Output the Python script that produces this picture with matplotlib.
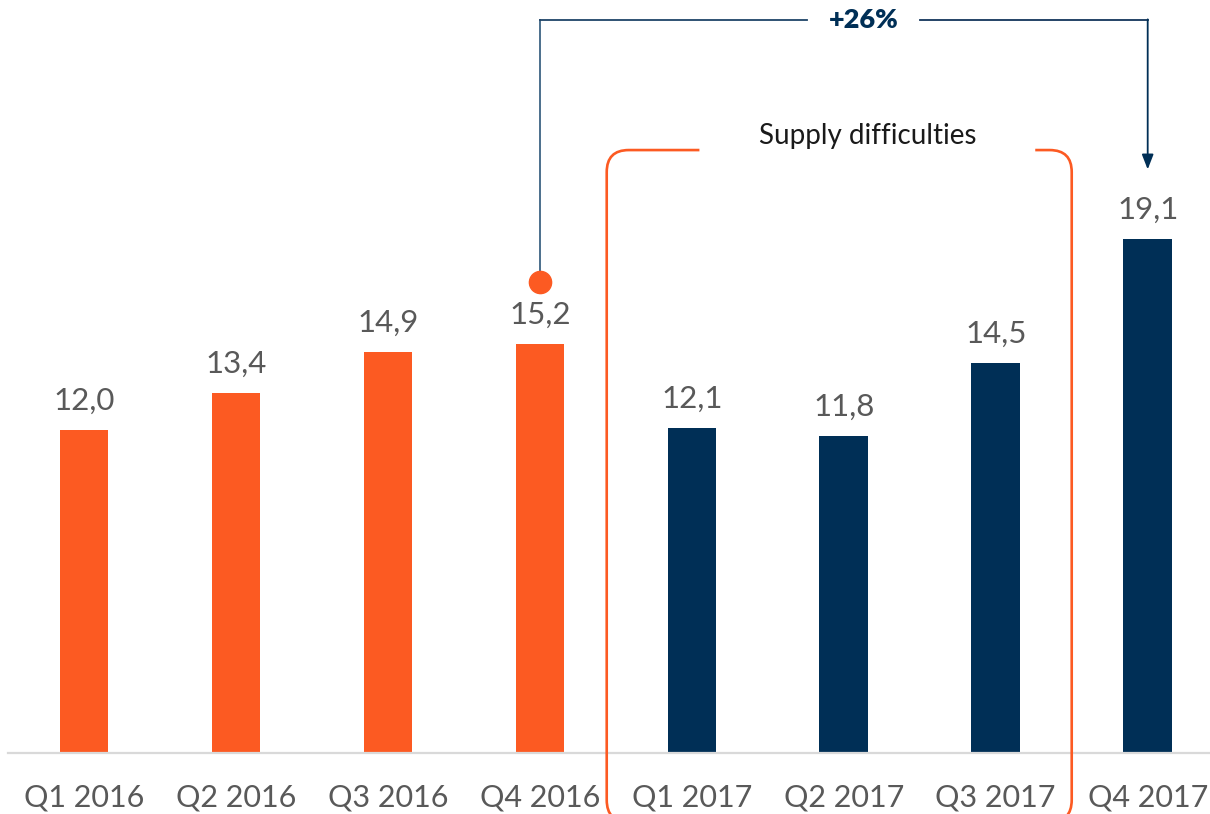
import matplotlib.pyplot as plt
from matplotlib.path import Path
from matplotlib.patches import PathPatch

plt.rcParams["font.family"] = ["Lato", "DejaVu Sans"]

quarters = ["Q1 2016", "Q2 2016", "Q3 2016", "Q4 2016",
            "Q1 2017", "Q2 2017", "Q3 2017", "Q4 2017"]
values = [12.0, 13.4, 14.9, 15.2, 12.1, 11.8, 14.5, 19.1]
growth_label = "+26%"
bracket_label = "Supply difficulties"

orange = "#fc5a22"
navy = "#002f56"
grey_txt = "#595959"

colors = [orange] * 4 + [navy] * 4

fig = plt.figure(figsize=(12.1, 8.14), dpi=100)
ax = fig.add_axes([8 / 1210, 61 / 814, 1 - 8 / 1210, 753 / 814])
ax.set_xlim(-0.5, 7.41)
ax.set_ylim(0, 28)

x = range(len(values))
ax.bar(x, values, width=0.32, color=colors, zorder=2)

for xi, v in zip(x, values):
    ax.annotate(f"{v:.1f}".replace(".", ","), (xi, v), xytext=(0, 11),
                textcoords="offset points", ha="center", va="bottom",
                fontsize=22.5, color=grey_txt)

for s in ["top", "right", "left"]:
    ax.spines[s].set_visible(False)
ax.spines["bottom"].set_color("#d9d9d9")
ax.spines["bottom"].set_linewidth(1.6)
ax.set_yticks([])
ax.set_xticks(list(x))
ax.set_xticklabels(quarters, fontsize=22, color=grey_txt)
ax.tick_params(axis="x", length=0, pad=22)

# growth annotation: Q4 2016 -> Q4 2017
y_top = 27.25
i0, i1 = 3, 7
x_txt = 5.13
ax.plot(i0, values[i0] + 2.3, "o", ms=16, color=orange, zorder=3, clip_on=False)
ax.plot([i0, i0], [values[i0] + 2.3, y_top], color="#3d6384", lw=1.3)
ax.plot([i0, x_txt - 0.37], [y_top, y_top], color="#1f4468", lw=1.3)
ax.plot([x_txt + 0.37, i1], [y_top, y_top], color="#12355b", lw=1.3)
ax.annotate("", xy=(i1, values[i1] + 2.6), xytext=(i1, y_top + 0.03),
            arrowprops=dict(arrowstyle="-|>,head_length=0.9,head_width=0.35",
                            color=navy, lw=1.3, shrinkA=0, shrinkB=0))
ax.text(x_txt, y_top, growth_label, ha="center", va="center", fontsize=19.5,
        fontweight="heavy", color=navy)

# rounded bracket around the 2017 dip
fig.canvas.draw()
to_px = ax.transData.transform
(xl, yt), = to_px([(3.44, 22.42)])
(xr, _), = to_px([(6.5, 22.42)])
(gl, _), = to_px([(4.05, 0)])
(gr, _), = to_px([(6.26, 0)])
yb = -8
r = 22
left = Path([(gl, yt), (xl + r, yt), (xl, yt), (xl, yt - r), (xl, yb + r),
             (xl, yb), (xl + r, yb)],
            [Path.MOVETO, Path.LINETO, Path.CURVE3, Path.CURVE3, Path.LINETO,
             Path.CURVE3, Path.CURVE3])
right = Path([(gr, yt), (xr - r, yt), (xr, yt), (xr, yt - r), (xr, yb + r),
              (xr, yb), (xr - r, yb)],
             [Path.MOVETO, Path.LINETO, Path.CURVE3, Path.CURVE3, Path.LINETO,
              Path.CURVE3, Path.CURVE3])
for p in (left, right):
    fig.add_artist(PathPatch(p, transform=None, fill=False, edgecolor=orange,
                             lw=1.9, zorder=4))
ax.text(5.16, 22.95, bracket_label, ha="center", va="center", fontsize=20,
        color="#1a1a1a")

fig.savefig("out.png", dpi=100, facecolor="w")
